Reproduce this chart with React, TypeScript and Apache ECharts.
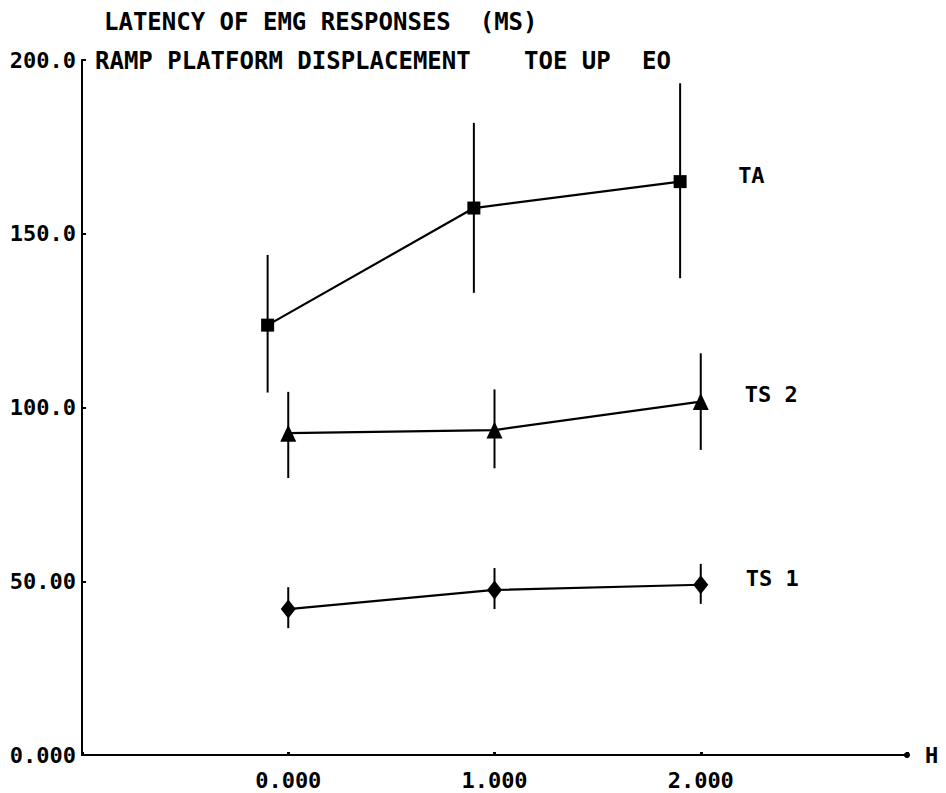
import React, { useEffect, useRef } from "react";
import * as echarts from "echarts";

const FONT = "'DejaVu Sans Mono', monospace";

const xTS = [0, 1, 2];
const xTA = [-0.1, 0.9, 1.9];

const taMean = [123.7, 157.4, 165];
const taLow = [104.3, 133, 137.2];
const taHigh = [143.9, 181.9, 193.3];

const ts2Mean = [92.6, 93.5, 101.7];
const ts2Low = [79.7, 82.5, 87.8];
const ts2High = [104.5, 105.2, 115.6];

const ts1Mean = [42, 47.5, 49];
const ts1Low = [36.5, 42, 43.5];
const ts1High = [48.3, 53.8, 55];

const xTickLabels: Record<string, string> = { "0": "0.000", "1": "1.000", "2": "2.000" };
const yTickLabels = ["0.000", "50.00", "100.0", "150.0", "200.0"];

const pts = (xs: number[], ys: number[]) => xs.map((x, i) => [x, ys[i]]);
const bars = (xs: number[], lo: number[], hi: number[]) => xs.map((x, i) => [x, lo[i], hi[i]]);

const errRender = (params: any, api: any) => {
  const p1 = api.coord([api.value(0), api.value(1)]);
  const p2 = api.coord([api.value(0), api.value(2)]);
  return {
    type: "line",
    shape: { x1: p1[0], y1: p1[1], x2: p2[0], y2: p2[1] },
    style: { stroke: "#000", lineWidth: 2 },
  };
};

export default function App() {
  const ref = useRef<HTMLDivElement>(null);
  useEffect(() => {
    if (!ref.current) return;
    const chart = echarts.init(ref.current, undefined, { renderer: "svg" });
    const txt = { fontFamily: FONT, fontWeight: "bold" as const, fontSize: 22, color: "#000" };
    const lineSeries = (name: string, data: number[][], symbol: string, size: any, off: number[]) => ({
      type: "line",
      name,
      data,
      symbol,
      symbolSize: size,
      z: 3,
      lineStyle: { color: "#000", width: 2.2 },
      itemStyle: { color: "#000" },
      endLabel: {
        show: true,
        formatter: name,
        distance: 0,
        offset: off,
        ...txt,
      },
    });
    const errSeries = (data: number[][]) => ({
      type: "custom",
      renderItem: errRender,
      data,
      z: 2,
      encode: { x: 0, y: [1, 2] },
    });
    const ttl = { ...txt, fontSize: 24 };
    chart.setOption({
      animation: false,
      backgroundColor: "#fff",
      title: [
        { text: "LATENCY OF EMG RESPONSES  (MS)", left: 104, top: 10, padding: 0, textStyle: ttl },
        { text: "RAMP PLATFORM DISPLACEMENT", left: 95, top: 49, padding: 0, textStyle: ttl },
        { text: "TOE UP", left: 524, top: 49, padding: 0, textStyle: ttl },
        { text: "EO", left: 642, top: 49, padding: 0, textStyle: ttl },
      ],
      grid: { left: 82, right: 39, top: 60, bottom: 38 },
      xAxis: {
        type: "value",
        min: -1,
        max: 3,
        interval: 1,
        name: "H",
        nameLocation: "end",
        nameGap: 18,
        nameTextStyle: { ...txt },
        splitLine: { show: false },
        axisLine: { onZero: false, lineStyle: { color: "#000", width: 2 }, symbol: ["none", "circle"], symbolSize: [6, 6] },
        axisTick: { show: true, inside: true, length: 3, lineStyle: { color: "#000", width: 3 } },
        axisLabel: {
          ...txt,
          margin: 14,
          formatter: (v: number) => xTickLabels[String(v)] ?? "",
        },
      },
      yAxis: {
        type: "value",
        min: 0,
        max: 200,
        interval: 50,
        splitLine: { show: false },
        axisLine: { show: true, onZero: false, lineStyle: { color: "#000", width: 2 } },
        axisTick: { show: true, inside: true, length: 4, lineStyle: { color: "#000", width: 2 } },
        axisLabel: {
          ...txt,
          margin: 6,
          formatter: (v: number) => yTickLabels[Math.round(v / 50)] ?? "",
        },
      },
      series: [
        errSeries(bars(xTA, taLow, taHigh)),
        errSeries(bars(xTS, ts2Low, ts2High)),
        errSeries(bars(xTS, ts1Low, ts1High)),
        lineSeries("TA", pts(xTA, taMean), "rect", [13, 13], [58, -6]),
        lineSeries("TS 2", pts(xTS, ts2Mean), "triangle", [16, 17], [44, -7]),
        lineSeries("TS 1", pts(xTS, ts1Mean), "diamond", [15, 19], [45, -6]),
      ],
    });
    return () => chart.dispose();
  }, []);
  return <div ref={ref} style={{ width: 946, height: 793, position: "absolute", left: 0, top: 0 }} />;
}
